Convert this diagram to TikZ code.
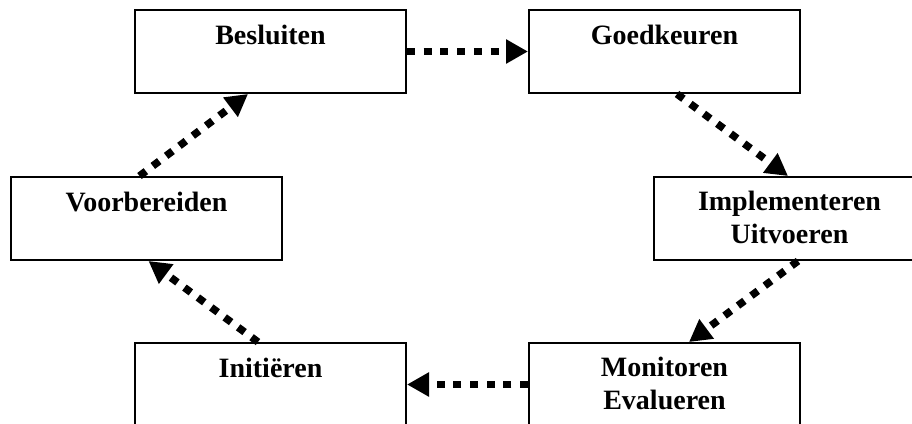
\documentclass[tikz,border=0pt]{standalone}
\usepackage{fontspec}
\setmainfont{Liberation Serif}
\usetikzlibrary{arrows.meta}
\begin{document}
\begin{tikzpicture}[x=1pt,y=-1pt,
  box/.style={draw,line width=2pt,minimum width=271pt,minimum height=83pt,inner sep=0pt,anchor=north west},
  lbl/.style={anchor=base,font=\fontsize{28}{33}\selectfont\bfseries,align=center,inner sep=0pt},
  flow/.style={line width=7.5pt,line cap=butt,dash pattern=on 8pt off 8.7pt,-{Triangle[length=22pt,width=23pt]}}]
\useasboundingbox (0,0) rectangle (912,423);
\clip (0,0) rectangle (912,423);
\node[box] (bes) at (134,9) {};
\node[box] (goe) at (528,9) {};
\node[box] (voo) at (10,176) {};
\node[box] (imp) at (653,176) {};
\node[box] (ini) at (134,342) {};
\node[box] (mon) at (528,342) {};
\node[lbl] (tbes) at ([yshift=-35pt]bes.north) {Besluiten};
\node[lbl] (tgoe) at ([yshift=-35pt]goe.north) {Goedkeuren};
\node[lbl] (tvoo) at ([yshift=-35pt]voo.north) {Voorbereiden};
\node[lbl] (timp) at ([yshift=-67pt]imp.north) {Implementeren\\Uitvoeren};
\node[lbl] (tini) at ([yshift=-35pt]ini.north) {Initiëren};
\node[lbl] (tmon) at ([yshift=-67pt]mon.north) {Monitoren\\Evalueren};
\draw[flow] (bes.east) -- (goe.west);
\draw[flow] ([xshift=-124pt]goe.south east) -- ([xshift=-1.5pt]imp.north);
\draw[flow] ([xshift=8.5pt]imp.south) -- ([xshift=24.5pt]mon.north);
\draw[flow] (mon.west) -- (ini.east);
\draw[flow] ([xshift=-12.5pt]ini.north) -- ([xshift=2pt]voo.south);
\draw[flow] ([xshift=-7pt]voo.north) -- ([xshift=-22.5pt]bes.south);
\end{tikzpicture}
\end{document}
